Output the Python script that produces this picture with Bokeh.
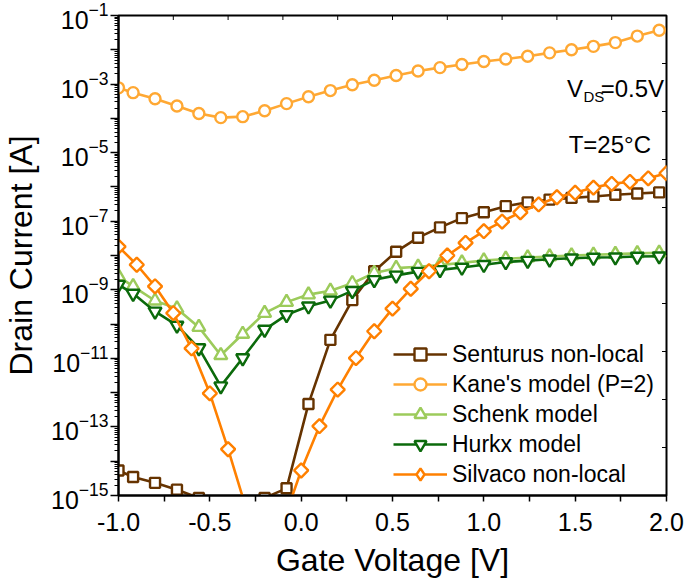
import math

from bokeh.embed import file_html
from bokeh.models import FixedTicker, Label, Legend, LegendItem, Range1d
from bokeh.plotting import figure
from bokeh.resources import INLINE

FONT = "Liberation Sans"

# Gate-voltage grids (V)
vg_coarse = [-1.00, -0.92, -0.80, -0.68, -0.56, -0.44, -0.32, -0.20, -0.08,
             0.04, 0.16, 0.28, 0.40, 0.52, 0.64, 0.76, 0.88, 1.00, 1.12,
             1.24, 1.36, 1.48, 1.60, 1.72, 1.84, 1.96]
vg_fine = [-1.0, -0.9, -0.8, -0.7, -0.6, -0.5, -0.4, -0.3, -0.2, -0.1, 0.0,
           0.1, 0.2, 0.3, 0.4, 0.5, 0.6, 0.7, 0.8, 0.9, 1.0, 1.1, 1.2, 1.3,
           1.4, 1.5, 1.6, 1.7, 1.8, 1.9, 2.0]

# Drain currents (A)
senturus = [5.37e-15, 3.47e-15, 2.34e-15, 1.48e-15, 8.5e-16, 5.0e-16,
            5.0e-16, 8.5e-16, 1.62e-15, 4.68e-13, 3.47e-11, 5.01e-10,
            3.47e-9, 1.29e-8, 3.31e-8, 6.61e-8, 1.23e-7, 1.82e-7, 2.75e-7,
            3.55e-7, 4.27e-7, 4.79e-7, 5.25e-7, 5.89e-7, 6.46e-7, 6.92e-7]
kane = [7.76e-4, 5.62e-4, 3.72e-4, 2.29e-4, 1.38e-4, 1.05e-4, 1.12e-4,
        1.66e-4, 2.69e-4, 4.27e-4, 6.46e-4, 9.55e-4, 1.29e-3, 1.78e-3,
        2.40e-3, 3.02e-3, 3.72e-3, 4.57e-3, 5.37e-3, 6.46e-3, 8.13e-3,
        1.00e-2, 1.26e-2, 1.62e-2, 2.51e-2, 3.72e-2]
schenk = [2.45e-9, 1.26e-9, 4.79e-10, 2.82e-10, 8.13e-11, 1.23e-11,
          5.13e-11, 2.09e-10, 4.37e-10, 7.24e-10, 9.33e-10, 1.55e-9,
          3.09e-9, 4.27e-9, 4.68e-9, 5.25e-9, 6.17e-9, 7.08e-9, 7.94e-9,
          8.71e-9, 9.33e-9, 1.00e-8, 1.05e-8, 1.10e-8, 1.15e-8, 1.20e-8]
hurkx = [1.41e-9, 7.76e-10, 2.34e-10, 9.12e-11, 2.00e-11, 1.55e-12,
         1.02e-11, 6.92e-11, 1.86e-10, 3.31e-10, 4.90e-10, 9.33e-10,
         1.95e-9, 2.63e-9, 3.39e-9, 3.80e-9, 4.47e-9, 5.37e-9, 6.46e-9,
         7.08e-9, 7.76e-9, 8.32e-9, 8.71e-9, 8.91e-9, 9.33e-9, 9.55e-9]
silvaco = [1.82e-8, 5.37e-9, 1.26e-9, 2.09e-10, 1.95e-11, 9.55e-13,
           2.24e-14, 3.98e-16, 3.16e-17, 1.58e-16, 5.37e-15, 1.05e-13,
           1.23e-12, 1.02e-11, 6.17e-11, 2.82e-10, 1.07e-9, 3.47e-9,
           1.00e-8, 2.34e-8, 5.13e-8, 9.77e-8, 1.82e-7, 3.09e-7, 5.01e-7,
           6.76e-7, 9.55e-7, 1.23e-6, 1.41e-6, 1.78e-6, 2.51e-6]

series_names = ["Senturus non-local", "Kane's model (P=2)", "Schenk model",
                "Hurkx model", "Silvaco non-local"]

# Axis ticks
x_major = [-1.0, -0.5, 0.0, 0.5, 1.0, 1.5, 2.0]
x_minor = [-0.75, -0.25, 0.25, 0.75, 1.25, 1.75]
x_tick_labels = ["-1.0", "-0.5", "0.0", "0.5", "1.0", "1.5", "2.0"]
y_exponents = list(range(-15, 0))
y_labelled = [-15, -13, -11, -9, -7, -5, -3, -1]

X_LO, X_HI = -1.0, 2.0
Y_LO, Y_HI = 1e-15, 1e-1

p = figure(width=686, height=585, output_backend="svg", toolbar_location=None,
           x_range=Range1d(X_LO, X_HI), y_range=Range1d(Y_LO, Y_HI),
           y_axis_type="log", min_border_left=116, min_border_right=20,
           min_border_top=15, min_border_bottom=90)
p.grid.visible = False
p.outline_line_color = "black"
p.outline_line_width = 2
p.outline_line_alpha = 1
p.background_fill_color = "white"
p.border_fill_color = "white"

# bottom axis
xa = p.xaxis[0]
xa.ticker = FixedTicker(ticks=x_major, minor_ticks=x_minor)
xa.major_label_overrides = {v: s for v, s in zip(x_major, x_tick_labels)}
xa.axis_label = "Gate Voltage [V]"
# left axis
ya = p.yaxis[0]
y_major = [10.0 ** e for e in y_exponents]
y_minor = [m * 10.0 ** e for e in y_exponents[:-1] for m in range(2, 10)]
ya.ticker = FixedTicker(ticks=y_major, minor_ticks=y_minor)
ya.major_label_overrides = {10.0 ** e: "" for e in y_exponents if e not in y_labelled}
ya.axis_label = "Drain Current [A]"

for ax in (xa, ya):
    ax.axis_line_width = 2
    ax.axis_line_color = "black"
    ax.major_tick_line_width = 1.5
    ax.minor_tick_line_width = 1
    ax.major_tick_in = 0
    ax.minor_tick_in = 0
    ax.major_label_text_font = FONT
    ax.major_label_text_font_size = "25px"
    ax.major_label_text_color = "black"
    ax.axis_label_text_font = FONT
    ax.axis_label_text_font_size = "32px"
    ax.axis_label_text_font_style = "normal"
    ax.axis_label_text_color = "black"

xa.major_tick_out = 6
xa.minor_tick_out = 6
xa.minor_tick_line_width = 1.5
xa.major_label_standoff = 11
xa.axis_label_standoff = 8
ya.major_tick_out = 8
ya.minor_tick_out = 4
ya.major_label_standoff = 2
ya.axis_label_standoff = 9

# short inward ticks along the top and right edges (ten equal divisions)
top_ticks = [X_LO + (X_HI - X_LO) * i / 10 for i in range(11)]
right_ticks = [10 ** (-15 + 14 * i / 10) for i in range(11)]
p.scatter(top_ticks, [Y_HI] * len(top_ticks), marker="dash", size=9,
          angle=math.pi / 2, line_color="black", line_width=1)
p.scatter([X_HI] * len(right_ticks), right_ticks, marker="dash", size=9,
          line_color="black", line_width=1)

styles = [
    (vg_coarse, senturus, "#663300", "square", 10, 0.0),
    (vg_coarse, kane, "#FFA833", "circle", 11, 0.0),
    (vg_coarse, schenk, "#9CCB5B", "triangle", 13, 0.0),
    (vg_coarse, hurkx, "#0B6A0B", "inverted_triangle", 13, 0.0),
    (vg_fine, silvaco, "#FF8000", "square", 10, math.pi / 4),
]

items = []
for name, (xs, ys, color, marker, size, ang) in zip(series_names, styles):
    ln = p.line(xs, ys, line_color=color, line_width=2.6)
    sc = p.scatter(xs, ys, marker=marker, size=size, angle=ang,
                   fill_color="white", line_color=color, line_width=2.4)
    if ang:
        # legend keys ignore marker rotation, so the key uses a diamond glyph
        key = p.scatter(xs, ys, marker="diamond", size=size, fill_color="white",
                        line_color=color, line_width=2.4, visible=False)
        items.append(LegendItem(label=name, renderers=[ln, key]))
    else:
        items.append(LegendItem(label=name, renderers=[ln, sc]))

legend = Legend(items=items, location=(275, 6), orientation="vertical",
                label_text_font=FONT, label_text_font_size="23px",
                label_text_color="black", glyph_width=54, glyph_height=30,
                label_standoff=5, spacing=-1, padding=0, margin=0,
                border_line_alpha=0, background_fill_alpha=0)
p.add_layout(legend)

# operating-condition annotations
ann = dict(text_font=FONT, text_color="black", text_baseline="alphabetic")
p.add_layout(Label(x=1.455, y=7.2e-4, text="V", text_font_size="24px", **ann))
p.add_layout(Label(x=1.545, y=4.2e-4, text="DS", text_font_size="15px", **ann))
p.add_layout(Label(x=1.640, y=7.2e-4, text="=0.5V", text_font_size="24px", **ann))
p.add_layout(Label(x=1.915, y=1.76e-5, text="T=25°C", text_font_size="24px",
                   text_align="right", **ann))

open("out.html", "w").write(file_html(p, INLINE))
